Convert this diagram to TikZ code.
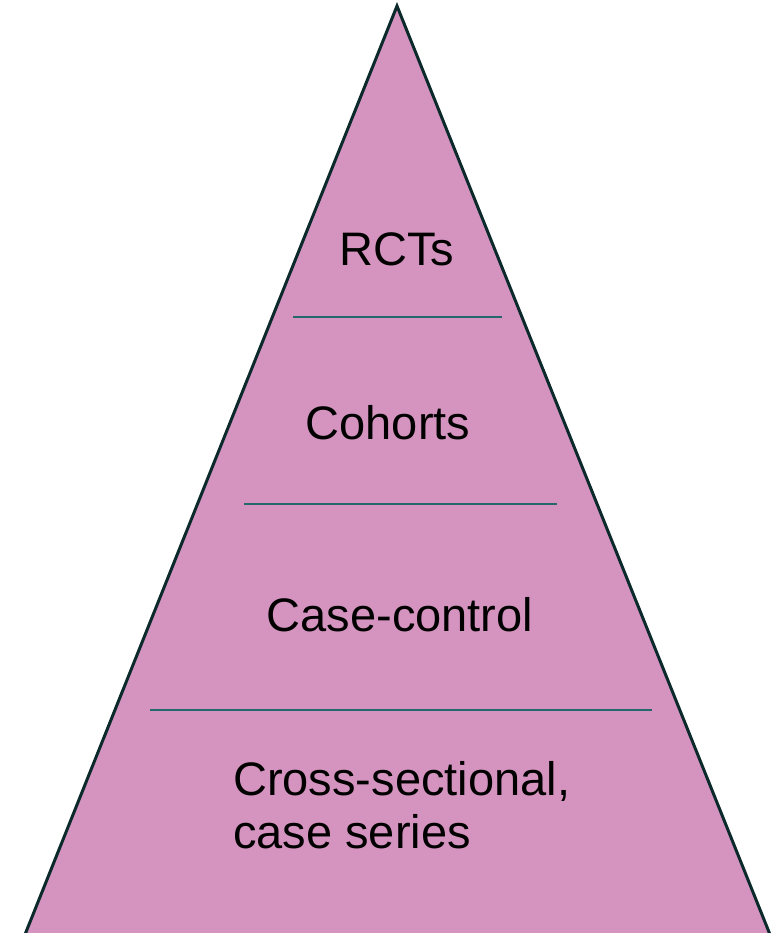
\documentclass[tikz,border=0pt]{standalone}
\usepackage{fontspec}
\setmainfont{Liberation Sans}
\definecolor{pyrfill}{RGB}{212,148,191}
\definecolor{pyredge}{RGB}{12,42,44}
\definecolor{sepline}{RGB}{36,104,110}
\begin{document}
\begin{tikzpicture}[x=1pt,y=-1pt,
  level/.style={font=\fontsize{47}{53}\selectfont, text=black, inner sep=0pt},
  divider/.style={draw=sepline, line width=1.3pt}]
\useasboundingbox (0,0) rectangle (774,933);
\begin{scope}
\clip (0,0) rectangle (774,933);
% pyramid body
\coordinate (apex) at (397,6);
\coordinate (bl) at (24,937);
\coordinate (br) at (771,937);
\draw[fill=pyrfill, draw=pyredge, line width=3pt, line join=miter] (apex) -- (br) -- (bl) -- cycle;
\end{scope}
% tier dividers
\coordinate (d1l) at (293,317); \coordinate (d1r) at (502,317);
\coordinate (d2l) at (244,504); \coordinate (d2r) at (557,504);
\coordinate (d3l) at (150,710); \coordinate (d3r) at (652,710);
\draw[divider] (d1l) -- (d1r);
\draw[divider] (d2l) -- (d2r);
\draw[divider] (d3l) -- (d3r);
% tier labels
\node[level, anchor=base] (rct) at (397,265) {RCTs};
\node[level, anchor=base] (coh) at (388,439) {Cohorts};
\node[level, anchor=base] (cc) at (400,631) {Case-control};
\node[level, anchor=base west, align=left] (cs) at (233,848) {Cross-sectional,\\case series};
\end{tikzpicture}
\end{document}
